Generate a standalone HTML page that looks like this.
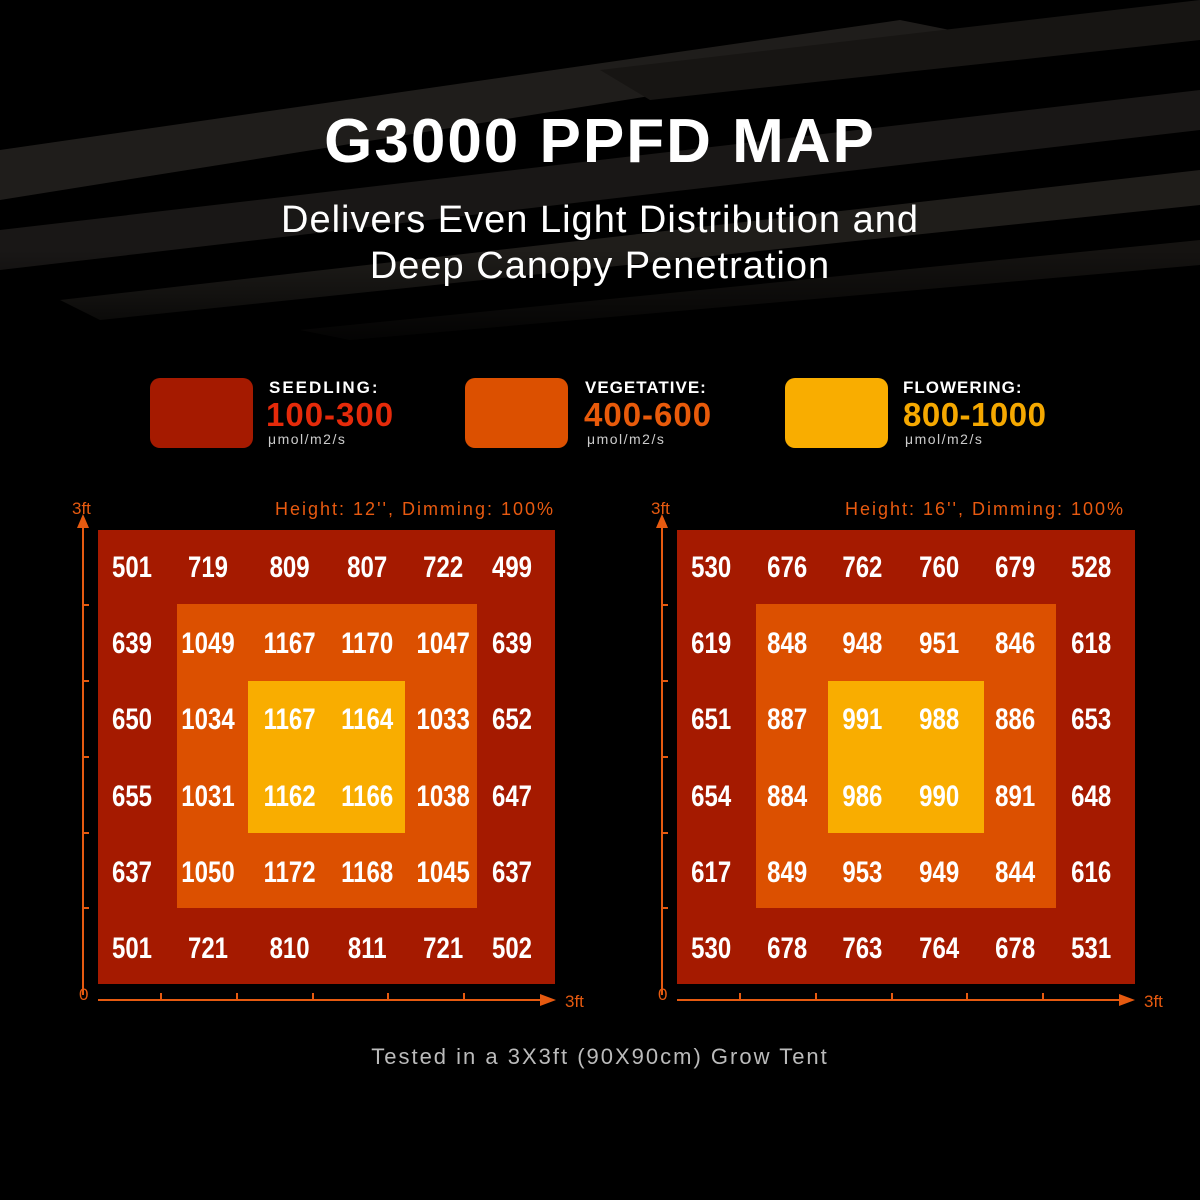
<!DOCTYPE html>
<html><head><meta charset="utf-8"><style>
html,body{margin:0;padding:0;background:#000;}
svg{display:block}
text{font-family:"Liberation Sans",sans-serif}
</style></head><body>
<svg width="1200" height="1200" viewBox="0 0 1200 1200" xmlns="http://www.w3.org/2000/svg">
<defs>
<linearGradient id="bgfade" x1="0" y1="0" x2="0" y2="1">
<stop offset="0" stop-color="#000" stop-opacity="0"/>
<stop offset="1" stop-color="#000" stop-opacity="1"/>
</linearGradient>
</defs>
<rect width="1200" height="1200" fill="#000"/>
<g opacity="0.55">
<polygon points="0,150 900,20 1000,40 0,200" fill="#3a3632"/>
<polygon points="0,230 1200,90 1200,130 0,270" fill="#2e2b28"/>
<polygon points="60,300 1200,170 1200,205 100,320" fill="#3a3531"/>
<polygon points="300,330 1200,240 1200,265 350,340" fill="#27241f"/>
<polygon points="600,70 1200,0 1200,40 650,100" fill="#2a2724"/>
</g>
<rect x="0" y="250" width="1200" height="110" fill="url(#bgfade)"/>

<text x="600" y="162" text-anchor="middle" fill="#fff" font-size="62" font-weight="bold" letter-spacing="2">G3000 PPFD MAP</text>
<text x="600" y="232" text-anchor="middle" fill="#fff" font-size="38" letter-spacing="1">Delivers Even Light Distribution and</text>
<text x="600" y="278" text-anchor="middle" fill="#fff" font-size="38" letter-spacing="1">Deep Canopy Penetration</text>

<rect x="150" y="378" width="103" height="70" rx="10" fill="#a51a00"/>
<text x="269" y="393" fill="#fff" font-size="17" font-weight="bold" letter-spacing="2">SEEDLING:</text>
<text x="266" y="426" fill="#e52a0a" font-size="33" font-weight="bold" letter-spacing="1">100-300</text>
<text x="268" y="444" fill="#ccc" font-size="14" letter-spacing="1.5">μmol/m2/s</text>

<rect x="465" y="378" width="103" height="70" rx="10" fill="#dc5000"/>
<text x="585" y="393" fill="#fff" font-size="17" font-weight="bold" letter-spacing="1">VEGETATIVE:</text>
<text x="584" y="426" fill="#e85a0a" font-size="33" font-weight="bold" letter-spacing="1">400-600</text>
<text x="587" y="444" fill="#ccc" font-size="14" letter-spacing="1.5">μmol/m2/s</text>

<rect x="785" y="378" width="103" height="70" rx="10" fill="#f9ad00"/>
<text x="903" y="393" fill="#fff" font-size="17" font-weight="bold" letter-spacing="1">FLOWERING:</text>
<text x="903" y="426" fill="#f5a800" font-size="33" font-weight="bold" letter-spacing="0.5">800-1000</text>
<text x="905" y="444" fill="#ccc" font-size="14" letter-spacing="1.5">μmol/m2/s</text>

<g>
<rect x="98" y="530" width="457" height="454" fill="#a51a00"/>
<rect x="177" y="604" width="300" height="304" fill="#dc5000"/>
<rect x="248" y="681" width="157" height="152" fill="#f9ad00"/>
<text x="555" y="515" text-anchor="end" fill="#e85a10" font-size="18" letter-spacing="2">Height: 12'', Dimming: 100%</text>
<g stroke="#e65a10" stroke-width="2" fill="none">
<line x1="83" y1="995" x2="83" y2="525"/>
<line x1="98" y1="1000" x2="545" y2="1000"/>
<path d="M83 605h6M83 681h6M83 757h6M83 833h6M83 908h6"/>
<path d="M161 1000v-7M237 1000v-7M313 1000v-7M388 1000v-7M464 1000v-7"/>
</g>
<polygon points="77,528 89,528 83,514" fill="#e65a10"/>
<polygon points="540,994 540,1006 556,1000" fill="#e65a10"/>
<text x="72" y="514" fill="#e65a10" font-size="17">3ft</text>
<text x="79" y="1000" fill="#e65a10" font-size="17">0</text>
<text x="565" y="1007" fill="#e65a10" font-size="17">3ft</text>
<g fill="#fff" font-size="30" text-anchor="middle" font-weight="bold">
<g transform="scale(0.8,1)">
<text y="577"><tspan x="165">501</tspan><tspan x="260">719</tspan><tspan x="362">809</tspan><tspan x="459">807</tspan><tspan x="554">722</tspan><tspan x="640">499</tspan></text>
<text y="653"><tspan x="165">639</tspan><tspan x="260">1049</tspan><tspan x="362">1167</tspan><tspan x="459">1170</tspan><tspan x="554">1047</tspan><tspan x="640">639</tspan></text>
<text y="729"><tspan x="165">650</tspan><tspan x="260">1034</tspan><tspan x="362">1167</tspan><tspan x="459">1164</tspan><tspan x="554">1033</tspan><tspan x="640">652</tspan></text>
<text y="806"><tspan x="165">655</tspan><tspan x="260">1031</tspan><tspan x="362">1162</tspan><tspan x="459">1166</tspan><tspan x="554">1038</tspan><tspan x="640">647</tspan></text>
<text y="882"><tspan x="165">637</tspan><tspan x="260">1050</tspan><tspan x="362">1172</tspan><tspan x="459">1168</tspan><tspan x="554">1045</tspan><tspan x="640">637</tspan></text>
<text y="958"><tspan x="165">501</tspan><tspan x="260">721</tspan><tspan x="362">810</tspan><tspan x="459">811</tspan><tspan x="554">721</tspan><tspan x="640">502</tspan></text>
</g></g>
</g>

<g>
<rect x="677" y="530" width="458" height="454" fill="#a51a00"/>
<rect x="756" y="604" width="300" height="304" fill="#dc5000"/>
<rect x="828" y="681" width="156" height="152" fill="#f9ad00"/>
<text x="1125" y="515" text-anchor="end" fill="#e85a10" font-size="18" letter-spacing="2">Height: 16'', Dimming: 100%</text>
<g stroke="#e65a10" stroke-width="2" fill="none">
<line x1="662" y1="995" x2="662" y2="525"/>
<line x1="677" y1="1000" x2="1124" y2="1000"/>
<path d="M662 605h6M662 681h6M662 757h6M662 833h6M662 908h6"/>
<path d="M740 1000v-7M816 1000v-7M892 1000v-7M967 1000v-7M1043 1000v-7"/>
</g>
<polygon points="656,528 668,528 662,514" fill="#e65a10"/>
<polygon points="1119,994 1119,1006 1135,1000" fill="#e65a10"/>
<text x="651" y="514" fill="#e65a10" font-size="17">3ft</text>
<text x="658" y="1000" fill="#e65a10" font-size="17">0</text>
<text x="1144" y="1007" fill="#e65a10" font-size="17">3ft</text>
<g fill="#fff" font-size="30" text-anchor="middle" font-weight="bold">
<g transform="scale(0.8,1)">
<text y="577"><tspan x="889">530</tspan><tspan x="984">676</tspan><tspan x="1078">762</tspan><tspan x="1174">760</tspan><tspan x="1269">679</tspan><tspan x="1364">528</tspan></text>
<text y="653"><tspan x="889">619</tspan><tspan x="984">848</tspan><tspan x="1078">948</tspan><tspan x="1174">951</tspan><tspan x="1269">846</tspan><tspan x="1364">618</tspan></text>
<text y="729"><tspan x="889">651</tspan><tspan x="984">887</tspan><tspan x="1078">991</tspan><tspan x="1174">988</tspan><tspan x="1269">886</tspan><tspan x="1364">653</tspan></text>
<text y="806"><tspan x="889">654</tspan><tspan x="984">884</tspan><tspan x="1078">986</tspan><tspan x="1174">990</tspan><tspan x="1269">891</tspan><tspan x="1364">648</tspan></text>
<text y="882"><tspan x="889">617</tspan><tspan x="984">849</tspan><tspan x="1078">953</tspan><tspan x="1174">949</tspan><tspan x="1269">844</tspan><tspan x="1364">616</tspan></text>
<text y="958"><tspan x="889">530</tspan><tspan x="984">678</tspan><tspan x="1078">763</tspan><tspan x="1174">764</tspan><tspan x="1269">678</tspan><tspan x="1364">531</tspan></text>
</g></g>
</g>

<text x="600" y="1064" text-anchor="middle" fill="#bbb" font-size="22" letter-spacing="2">Tested in a 3X3ft (90X90cm) Grow Tent</text>
</svg>
</body></html>
